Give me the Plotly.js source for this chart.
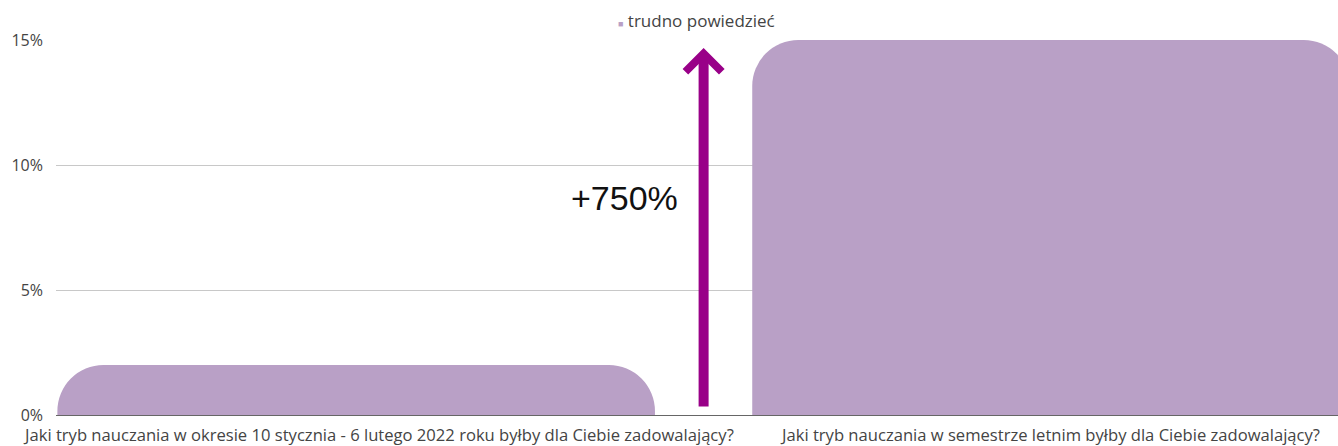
<!DOCTYPE html>
<html>
<head>
<meta charset="utf-8">
<script src="https://cdn.plot.ly/plotly-3.0.1.min.js"></script>
<style>html,body{margin:0;padding:0;background:#fff;}#chart{width:1338px;height:446px;}</style>
</head>
<body>
<div id="chart"></div>
<script>
const categories = [
  "Jaki tryb nauczania w okresie 10 stycznia - 6 lutego 2022 roku byłby dla Ciebie zadowalający?",
  "Jaki tryb nauczania w semestrze letnim byłby dla Ciebie zadowalający?"
];
const seriesName = "trudno powiedzieć";
const values = [2, 15];
const yTicks = [0, 5, 10, 15];
const changeLabel = "+750%";

const barColor = "#B9A0C6";
const arrowColor = "#990088";
const xIdx = categories.map((c, i) => i);

const traces = [
  {
    type: "bar",
    x: xIdx,
    y: values,
    name: seriesName,
    width: 0.86,
    marker: { color: barColor, cornerradius: 46 },
    showlegend: false,
    hoverinfo: "skip"
  }
];

const labelFont = { family: "Open Sans", size: 16.6, color: "#444" };

const annotations = categories.map((c, i) => ({
  x: i, y: 0, xref: "x", yref: "y",
  text: c, showarrow: false,
  yanchor: "top", xanchor: "center",
  yshift: -7, borderpad: 0, xshift: i === 0 ? 22 : -1,
  font: labelFont
}));

// legend (drawn as text so the small square sits close to the label)
annotations.push({
  x: (616 - 56) / 1282, y: 1, xref: "paper", yref: "paper",
  xanchor: "left", yanchor: "middle", yshift: 20,
  showarrow: false,
  text: '<span style="color:' + barColor + ';font-size:9px">■</span> ' + seriesName,
  font: { family: "Open Sans", size: 17, color: "#444" }
});

const arrowX = 0.5;
annotations.push({
  x: arrowX, y: values[1] - 0.32, xref: "x", yref: "y",
  ax: arrowX, ay: 0.28, axref: "x", ayref: "y",
  showarrow: true, arrowhead: 4, arrowsize: 0.7, arrowwidth: 10,
  arrowcolor: arrowColor, text: "", standoff: 0
});
annotations.push({
  x: arrowX, y: 8.68, xref: "x", yref: "y",
  text: changeLabel, showarrow: false,
  xanchor: "right", yanchor: "middle", xshift: -24,
  font: { family: "Liberation Sans, Arial", size: 34, color: "#111" }
});

const layout = {
  width: 1338, height: 446,
  margin: { l: 56, r: 0, t: 40, b: 31 },
  paper_bgcolor: "#fff", plot_bgcolor: "#fff",
  font: labelFont,
  xaxis: {
    type: "linear",
    range: [-0.432, 1.413],
    showticklabels: false,
    showgrid: false, zeroline: false,
    showline: true, linecolor: "#666", linewidth: 1,
    ticks: "", fixedrange: true
  },
  yaxis: {
    range: [0, 15],
    tickvals: yTicks,
    ticktext: yTicks.map(v => v + "%"),
    showgrid: true, gridcolor: "#c8c8c8", gridwidth: 1,
    zeroline: false, showline: false, ticks: "",
    ticklabelstandoff: 12,
    tickfont: { family: "Open Sans", size: 16, color: "#444" },
    fixedrange: true
  },
  showlegend: false,
  annotations: annotations
};

Plotly.newPlot("chart", traces, layout, { displayModeBar: false, staticPlot: true });
</script>
</body>
</html>
